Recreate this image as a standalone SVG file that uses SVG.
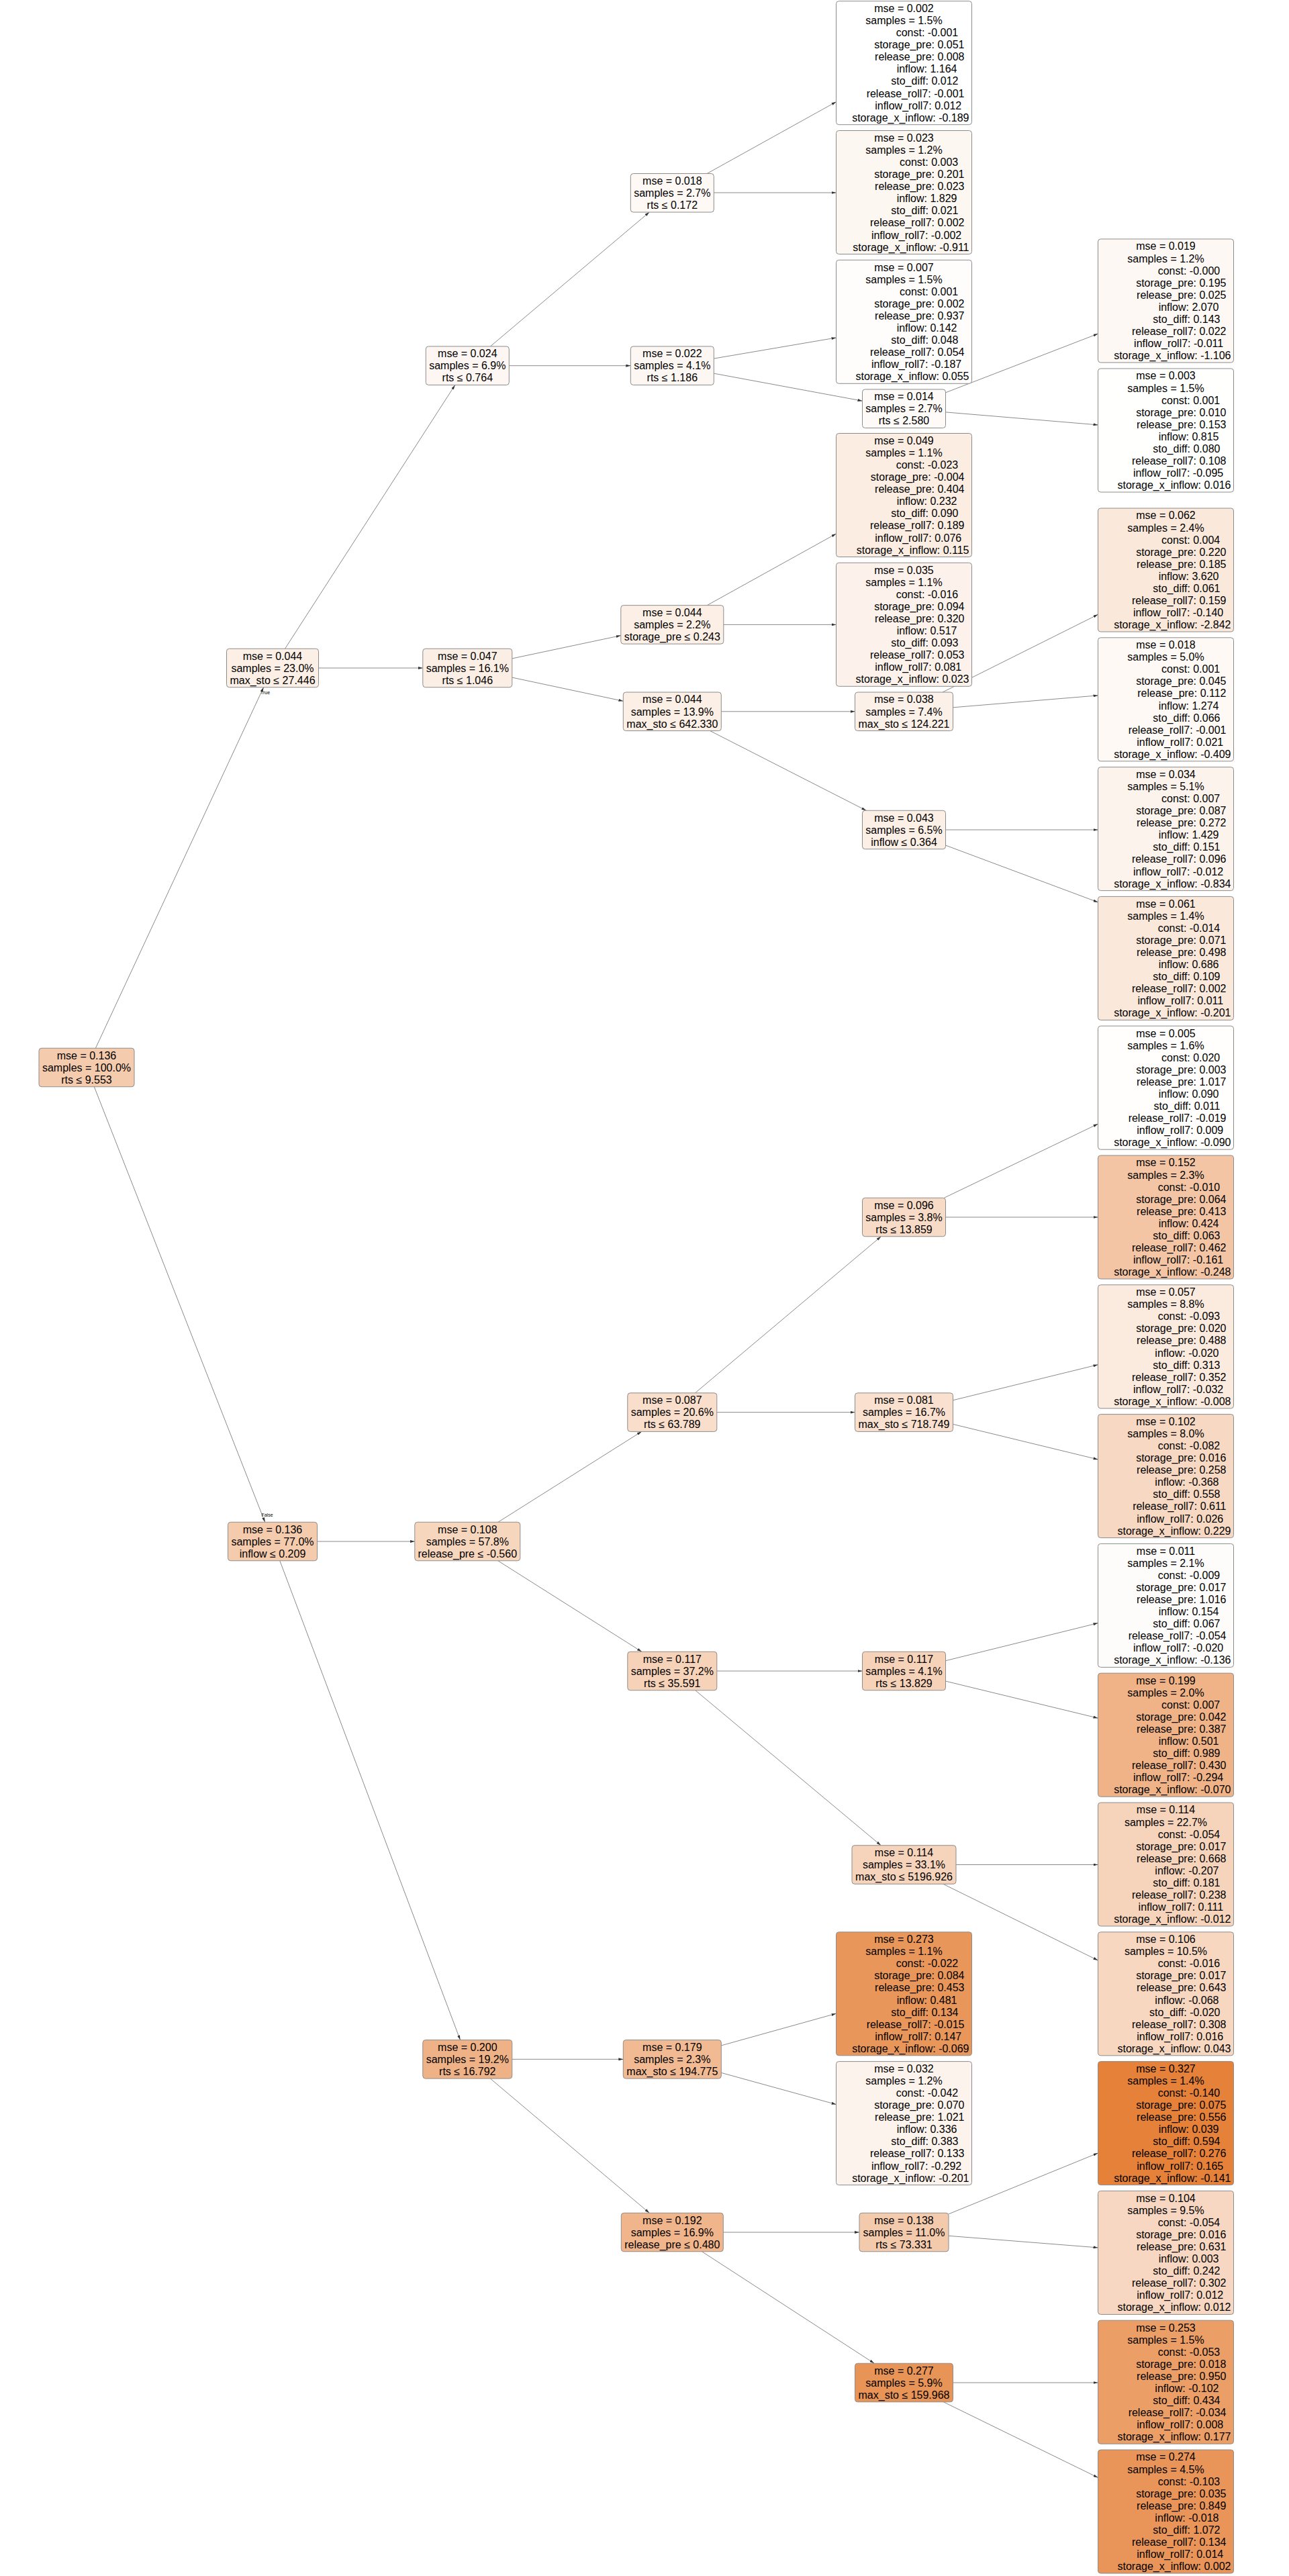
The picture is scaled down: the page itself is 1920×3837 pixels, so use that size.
<svg xmlns="http://www.w3.org/2000/svg" width="1920" height="3837" viewBox="0 0 1920 3837">
<style>
text{font-family:"Liberation Sans",Arial,sans-serif;font-size:16px;fill:#000}
.c{text-anchor:middle}
.r{text-anchor:end}
g rect{stroke:#8c8c8c;stroke-width:1}
#edges line{stroke:#8a8a8a;stroke-width:1;marker-end:url(#ah)}
.lbl{font-size:7px;text-anchor:middle}
</style>
<defs>
<marker id="ah" viewBox="0 0 7 4" refX="7" refY="2" markerWidth="7" markerHeight="4" markerUnits="userSpaceOnUse" orient="auto"><path d="M0,0L7,2L0,4z" fill="#333"/></marker>
</defs>
<rect x="0" y="0" width="1920" height="3837" style="fill:#fff;stroke:none"/>
<g id="edges">
<line x1="142.4" y1="1561.25" x2="392.6" y2="1023.75"/>
<line x1="140.3" y1="1618.75" x2="394.7" y2="2267.25"/>
<line x1="424.5" y1="966.25" x2="677.8" y2="573.45"/>
<line x1="474.5" y1="995" x2="629.8" y2="995"/>
<line x1="730.4" y1="515.95" x2="967.2" y2="316.05"/>
<line x1="758.3" y1="544.7" x2="939.3" y2="544.7"/>
<line x1="1053.1" y1="258.55" x2="1245.5" y2="151.7"/>
<line x1="1063.3" y1="287" x2="1245.5" y2="287"/>
<line x1="1063.3" y1="534.1" x2="1245.5" y2="503"/>
<line x1="1063.3" y1="556.2" x2="1284.5" y2="597.2"/>
<line x1="1408.5" y1="584.8" x2="1635.5" y2="497.1"/>
<line x1="1408.5" y1="613.9" x2="1635.5" y2="632.9"/>
<line x1="762.8" y1="980.9" x2="924.8" y2="946.6"/>
<line x1="762.8" y1="1009.1" x2="928.3" y2="1044.3"/>
<line x1="1053.2" y1="901.65" x2="1245.5" y2="795"/>
<line x1="1077.8" y1="930.4" x2="1245.5" y2="930.4"/>
<line x1="1074.3" y1="1059.8" x2="1273.5" y2="1059.8"/>
<line x1="1057.6" y1="1088.55" x2="1290.2" y2="1207.25"/>
<line x1="1404" y1="1031.05" x2="1635.5" y2="915.3"/>
<line x1="1419.5" y1="1053.8" x2="1635.5" y2="1035.9"/>
<line x1="1408.5" y1="1236" x2="1635.5" y2="1236"/>
<line x1="1408.5" y1="1259.1" x2="1635.5" y2="1343.9"/>
<line x1="472.5" y1="2296" x2="617.8" y2="2296"/>
<line x1="416.8" y1="2324.75" x2="685.5" y2="3038.55"/>
<line x1="741.9" y1="2267.25" x2="955.7" y2="2132.35"/>
<line x1="741.7" y1="2324.75" x2="955.9" y2="2460.25"/>
<line x1="1035.45" y1="2074.85" x2="1312.35" y2="1841.75"/>
<line x1="1067.8" y1="2103.6" x2="1273.5" y2="2103.6"/>
<line x1="1406.3" y1="1784.25" x2="1635.5" y2="1674.1"/>
<line x1="1408.5" y1="1813" x2="1635.5" y2="1813"/>
<line x1="1419.5" y1="2085.7" x2="1635.5" y2="2032.7"/>
<line x1="1419.5" y1="2121.4" x2="1635.5" y2="2173.9"/>
<line x1="1067.8" y1="2489" x2="1284.5" y2="2489"/>
<line x1="1035.7" y1="2517.75" x2="1312.1" y2="2748.75"/>
<line x1="1408.5" y1="2473.7" x2="1635.5" y2="2417.6"/>
<line x1="1408.5" y1="2504.1" x2="1635.5" y2="2559.2"/>
<line x1="1424" y1="2777.5" x2="1635.5" y2="2777.5"/>
<line x1="1404.8" y1="2806.25" x2="1635.5" y2="2920"/>
<line x1="762.8" y1="3067.3" x2="928.3" y2="3067.3"/>
<line x1="730.3" y1="3096.05" x2="967.3" y2="3296.25"/>
<line x1="1074.3" y1="3046.9" x2="1245.5" y2="2999.2"/>
<line x1="1074.3" y1="3087.4" x2="1245.5" y2="3134.6"/>
<line x1="1077.3" y1="3325" x2="1280" y2="3325"/>
<line x1="1045.6" y1="3353.75" x2="1302.2" y2="3520.25"/>
<line x1="1413" y1="3297.85" x2="1635.5" y2="3207"/>
<line x1="1413" y1="3330.3" x2="1635.5" y2="3347.9"/>
<line x1="1419.5" y1="3549" x2="1635.5" y2="3549"/>
<line x1="1405.3" y1="3577.75" x2="1635.5" y2="3690.4"/>
<text class="lbl" x="395" y="1034">True</text>
<text class="lbl" x="398" y="2259">False</text>
</g>

<g id="root" transform="translate(58,1561.25)"><rect width="142" height="57.5" rx="4" fill="#f4cbad"/><text class="c"><tspan x="71" y="16.4">mse = 0.136</tspan><tspan x="71" y="34.5">samples = 100.0%</tspan><tspan x="71" y="52.5">rts ≤ 9.553</tspan></text></g>
<g id="A" transform="translate(337.5,966.25)"><rect width="137" height="57.5" rx="4" fill="#fcefe5"/><text class="c"><tspan x="68.5" y="16.4">mse = 0.044</tspan><tspan x="68.5" y="34.5">samples = 23.0%</tspan><tspan x="68.5" y="52.5">max_sto ≤ 27.446</tspan></text></g>
<g id="B" transform="translate(339.5,2267.25)"><rect width="133" height="57.5" rx="4" fill="#f4cbad"/><text class="c"><tspan x="66.5" y="16.4">mse = 0.136</tspan><tspan x="66.5" y="34.5">samples = 77.0%</tspan><tspan x="66.5" y="52.5">inflow ≤ 0.209</tspan></text></g>
<g id="A1" transform="translate(634.3,515.95)"><rect width="124" height="57.5" rx="4" fill="#fdf6f2"/><text class="c"><tspan x="62" y="16.4">mse = 0.024</tspan><tspan x="62" y="34.5">samples = 6.9%</tspan><tspan x="62" y="52.5">rts ≤ 0.764</tspan></text></g>
<g id="A2" transform="translate(629.8,966.25)"><rect width="133" height="57.5" rx="4" fill="#fbeee4"/><text class="c"><tspan x="66.5" y="16.4">mse = 0.047</tspan><tspan x="66.5" y="34.5">samples = 16.1%</tspan><tspan x="66.5" y="52.5">rts ≤ 1.046</tspan></text></g>
<g id="A1a" transform="translate(939.3,258.55)"><rect width="124" height="57.5" rx="4" fill="#fef9f5"/><text class="c"><tspan x="62" y="16.4">mse = 0.018</tspan><tspan x="62" y="34.5">samples = 2.7%</tspan><tspan x="62" y="52.5">rts ≤ 0.172</tspan></text></g>
<g id="A1b" transform="translate(939.3,515.95)"><rect width="124" height="57.5" rx="4" fill="#fdf7f3"/><text class="c"><tspan x="62" y="16.4">mse = 0.022</tspan><tspan x="62" y="34.5">samples = 4.1%</tspan><tspan x="62" y="52.5">rts ≤ 1.186</tspan></text></g>
<g id="A2a" transform="translate(924.8,901.65)"><rect width="153" height="57.5" rx="4" fill="#fcefe5"/><text class="c"><tspan x="76.5" y="16.4">mse = 0.044</tspan><tspan x="76.5" y="34.5">samples = 2.2%</tspan><tspan x="76.5" y="52.5">storage_pre ≤ 0.243</tspan></text></g>
<g id="A2b" transform="translate(928.3,1031.05)"><rect width="146" height="57.5" rx="4" fill="#fcefe5"/><text class="c"><tspan x="73" y="16.4">mse = 0.044</tspan><tspan x="73" y="34.5">samples = 13.9%</tspan><tspan x="73" y="52.5">max_sto ≤ 642.330</tspan></text></g>
<g id="A1b2" transform="translate(1284.5,579.95)"><rect width="124" height="57.5" rx="4" fill="#fefaf8"/><text class="c"><tspan x="62" y="16.4">mse = 0.014</tspan><tspan x="62" y="34.5">samples = 2.7%</tspan><tspan x="62" y="52.5">rts ≤ 2.580</tspan></text></g>
<g id="A2b1" transform="translate(1273.5,1031.05)"><rect width="146" height="57.5" rx="4" fill="#fcf1e9"/><text class="c"><tspan x="73" y="16.4">mse = 0.038</tspan><tspan x="73" y="34.5">samples = 7.4%</tspan><tspan x="73" y="52.5">max_sto ≤ 124.221</tspan></text></g>
<g id="A2b2" transform="translate(1284.5,1207.25)"><rect width="124" height="57.5" rx="4" fill="#fcefe6"/><text class="c"><tspan x="62" y="16.4">mse = 0.043</tspan><tspan x="62" y="34.5">samples = 6.5%</tspan><tspan x="62" y="52.5">inflow ≤ 0.364</tspan></text></g>
<g id="B1" transform="translate(617.8,2267.25)"><rect width="157" height="57.5" rx="4" fill="#f7d6be"/><text class="c"><tspan x="78.5" y="16.4">mse = 0.108</tspan><tspan x="78.5" y="34.5">samples = 57.8%</tspan><tspan x="78.5" y="52.5">release_pre ≤ -0.560</tspan></text></g>
<g id="B1a" transform="translate(934.8,2074.85)"><rect width="133" height="57.5" rx="4" fill="#f8decb"/><text class="c"><tspan x="66.5" y="16.4">mse = 0.087</tspan><tspan x="66.5" y="34.5">samples = 20.6%</tspan><tspan x="66.5" y="52.5">rts ≤ 63.789</tspan></text></g>
<g id="B1b" transform="translate(934.8,2460.25)"><rect width="133" height="57.5" rx="4" fill="#f6d2b9"/><text class="c"><tspan x="66.5" y="16.4">mse = 0.117</tspan><tspan x="66.5" y="34.5">samples = 37.2%</tspan><tspan x="66.5" y="52.5">rts ≤ 35.591</tspan></text></g>
<g id="B1a1" transform="translate(1284.5,1784.25)"><rect width="124" height="57.5" rx="4" fill="#f7dbc6"/><text class="c"><tspan x="62" y="16.4">mse = 0.096</tspan><tspan x="62" y="34.5">samples = 3.8%</tspan><tspan x="62" y="52.5">rts ≤ 13.859</tspan></text></g>
<g id="B1a2" transform="translate(1273.5,2074.85)"><rect width="146" height="57.5" rx="4" fill="#f9e0cf"/><text class="c"><tspan x="73" y="16.4">mse = 0.081</tspan><tspan x="73" y="34.5">samples = 16.7%</tspan><tspan x="73" y="52.5">max_sto ≤ 718.749</tspan></text></g>
<g id="B1b1" transform="translate(1284.5,2460.25)"><rect width="124" height="57.5" rx="4" fill="#f6d2b9"/><text class="c"><tspan x="62" y="16.4">mse = 0.117</tspan><tspan x="62" y="34.5">samples = 4.1%</tspan><tspan x="62" y="52.5">rts ≤ 13.829</tspan></text></g>
<g id="B1b2" transform="translate(1269,2748.75)"><rect width="155" height="57.5" rx="4" fill="#f6d4bb"/><text class="c"><tspan x="77.5" y="16.4">mse = 0.114</tspan><tspan x="77.5" y="34.5">samples = 33.1%</tspan><tspan x="77.5" y="52.5">max_sto ≤ 5196.926</tspan></text></g>
<g id="B2" transform="translate(629.8,3038.55)"><rect width="133" height="57.5" rx="4" fill="#efb286"/><text class="c"><tspan x="66.5" y="16.4">mse = 0.200</tspan><tspan x="66.5" y="34.5">samples = 19.2%</tspan><tspan x="66.5" y="52.5">rts ≤ 16.792</tspan></text></g>
<g id="B2a" transform="translate(928.3,3038.55)"><rect width="146" height="57.5" rx="4" fill="#f1ba93"/><text class="c"><tspan x="73" y="16.4">mse = 0.179</tspan><tspan x="73" y="34.5">samples = 2.3%</tspan><tspan x="73" y="52.5">max_sto ≤ 194.775</tspan></text></g>
<g id="B2b" transform="translate(925.3,3296.25)"><rect width="152" height="57.5" rx="4" fill="#f0b58b"/><text class="c"><tspan x="76" y="16.4">mse = 0.192</tspan><tspan x="76" y="34.5">samples = 16.9%</tspan><tspan x="76" y="52.5">release_pre ≤ 0.480</tspan></text></g>
<g id="B2b1" transform="translate(1280,3296.25)"><rect width="133" height="57.5" rx="4" fill="#f4caac"/><text class="c"><tspan x="66.5" y="16.4">mse = 0.138</tspan><tspan x="66.5" y="34.5">samples = 11.0%</tspan><tspan x="66.5" y="52.5">rts ≤ 73.331</tspan></text></g>
<g id="B2b2" transform="translate(1273.5,3520.25)"><rect width="146" height="57.5" rx="4" fill="#e99457"/><text class="c"><tspan x="73" y="16.4">mse = 0.277</tspan><tspan x="73" y="34.5">samples = 5.9%</tspan><tspan x="73" y="52.5">max_sto ≤ 159.968</tspan></text></g>

<g id="M1" transform="translate(1245.5,1.7)"><rect width="202" height="184" rx="4" fill="#ffffff"/><text class="c"><tspan x="101" y="16.4">mse = 0.002</tspan><tspan x="101" y="34.5">samples = 1.5%</tspan></text><text class="r"><tspan x="181.7" y="52.5">const: -0.001</tspan><tspan x="191" y="70.6">storage_pre: 0.051</tspan><tspan x="191" y="88.7">release_pre: 0.008</tspan><tspan x="180" y="106.8">inflow: 1.164</tspan><tspan x="182" y="124.8">sto_diff: 0.012</tspan><tspan x="191" y="142.9">release_roll7: -0.001</tspan><tspan x="186.7" y="161">inflow_roll7: 0.012</tspan><tspan x="198" y="179">storage_x_inflow: -0.189</tspan></text></g>
<g id="M2" transform="translate(1245.5,194.5)"><rect width="202" height="184" rx="4" fill="#fdf7f2"/><text class="c"><tspan x="101" y="16.4">mse = 0.023</tspan><tspan x="101" y="34.5">samples = 1.2%</tspan></text><text class="r"><tspan x="181.7" y="52.5">const: 0.003</tspan><tspan x="191" y="70.6">storage_pre: 0.201</tspan><tspan x="191" y="88.7">release_pre: 0.023</tspan><tspan x="180" y="106.8">inflow: 1.829</tspan><tspan x="182" y="124.8">sto_diff: 0.021</tspan><tspan x="191" y="142.9">release_roll7: 0.002</tspan><tspan x="186.7" y="161">inflow_roll7: -0.002</tspan><tspan x="198" y="179">storage_x_inflow: -0.911</tspan></text></g>
<g id="M3" transform="translate(1245.5,387.3)"><rect width="202" height="184" rx="4" fill="#fffdfc"/><text class="c"><tspan x="101" y="16.4">mse = 0.007</tspan><tspan x="101" y="34.5">samples = 1.5%</tspan></text><text class="r"><tspan x="181.7" y="52.5">const: 0.001</tspan><tspan x="191" y="70.6">storage_pre: 0.002</tspan><tspan x="191" y="88.7">release_pre: 0.937</tspan><tspan x="180" y="106.8">inflow: 0.142</tspan><tspan x="182" y="124.8">sto_diff: 0.048</tspan><tspan x="191" y="142.9">release_roll7: 0.054</tspan><tspan x="186.7" y="161">inflow_roll7: -0.187</tspan><tspan x="198" y="179">storage_x_inflow: 0.055</tspan></text></g>
<g id="M4" transform="translate(1245.5,645.5)"><rect width="202" height="184" rx="4" fill="#fbede2"/><text class="c"><tspan x="101" y="16.4">mse = 0.049</tspan><tspan x="101" y="34.5">samples = 1.1%</tspan></text><text class="r"><tspan x="181.7" y="52.5">const: -0.023</tspan><tspan x="191" y="70.6">storage_pre: -0.004</tspan><tspan x="191" y="88.7">release_pre: 0.404</tspan><tspan x="180" y="106.8">inflow: 0.232</tspan><tspan x="182" y="124.8">sto_diff: 0.090</tspan><tspan x="191" y="142.9">release_roll7: 0.189</tspan><tspan x="186.7" y="161">inflow_roll7: 0.076</tspan><tspan x="198" y="179">storage_x_inflow: 0.115</tspan></text></g>
<g id="M5" transform="translate(1245.5,838.3)"><rect width="202" height="184" rx="4" fill="#fcf2eb"/><text class="c"><tspan x="101" y="16.4">mse = 0.035</tspan><tspan x="101" y="34.5">samples = 1.1%</tspan></text><text class="r"><tspan x="181.7" y="52.5">const: -0.016</tspan><tspan x="191" y="70.6">storage_pre: 0.094</tspan><tspan x="191" y="88.7">release_pre: 0.320</tspan><tspan x="180" y="106.8">inflow: 0.517</tspan><tspan x="182" y="124.8">sto_diff: 0.093</tspan><tspan x="191" y="142.9">release_roll7: 0.053</tspan><tspan x="186.7" y="161">inflow_roll7: 0.081</tspan><tspan x="198" y="179">storage_x_inflow: 0.023</tspan></text></g>
<g id="M6" transform="translate(1245.5,2877.8)"><rect width="202" height="184" rx="4" fill="#e9965a"/><text class="c"><tspan x="101" y="16.4">mse = 0.273</tspan><tspan x="101" y="34.5">samples = 1.1%</tspan></text><text class="r"><tspan x="181.7" y="52.5">const: -0.022</tspan><tspan x="191" y="70.6">storage_pre: 0.084</tspan><tspan x="191" y="88.7">release_pre: 0.453</tspan><tspan x="180" y="106.8">inflow: 0.481</tspan><tspan x="182" y="124.8">sto_diff: 0.134</tspan><tspan x="191" y="142.9">release_roll7: -0.015</tspan><tspan x="186.7" y="161">inflow_roll7: 0.147</tspan><tspan x="198" y="179">storage_x_inflow: -0.069</tspan></text></g>
<g id="M7" transform="translate(1245.5,3070.6)"><rect width="202" height="184" rx="4" fill="#fdf3ed"/><text class="c"><tspan x="101" y="16.4">mse = 0.032</tspan><tspan x="101" y="34.5">samples = 1.2%</tspan></text><text class="r"><tspan x="181.7" y="52.5">const: -0.042</tspan><tspan x="191" y="70.6">storage_pre: 0.070</tspan><tspan x="191" y="88.7">release_pre: 1.021</tspan><tspan x="180" y="106.8">inflow: 0.336</tspan><tspan x="182" y="124.8">sto_diff: 0.383</tspan><tspan x="191" y="142.9">release_roll7: 0.133</tspan><tspan x="186.7" y="161">inflow_roll7: -0.292</tspan><tspan x="198" y="179">storage_x_inflow: -0.201</tspan></text></g>

<g id="R1" transform="translate(1635.5,356)"><rect width="202" height="184" rx="4" fill="#fef8f5"/><text class="c"><tspan x="101" y="16.4">mse = 0.019</tspan><tspan x="101" y="34.5">samples = 1.2%</tspan></text><text class="r"><tspan x="181.7" y="52.5">const: -0.000</tspan><tspan x="191" y="70.6">storage_pre: 0.195</tspan><tspan x="191" y="88.7">release_pre: 0.025</tspan><tspan x="180" y="106.8">inflow: 2.070</tspan><tspan x="182" y="124.8">sto_diff: 0.143</tspan><tspan x="191" y="142.9">release_roll7: 0.022</tspan><tspan x="186.7" y="161">inflow_roll7: -0.011</tspan><tspan x="198" y="179">storage_x_inflow: -1.106</tspan></text></g>
<g id="R2" transform="translate(1635.5,549)"><rect width="202" height="184" rx="4" fill="#fffffe"/><text class="c"><tspan x="101" y="16.4">mse = 0.003</tspan><tspan x="101" y="34.5">samples = 1.5%</tspan></text><text class="r"><tspan x="181.7" y="52.5">const: 0.001</tspan><tspan x="191" y="70.6">storage_pre: 0.010</tspan><tspan x="191" y="88.7">release_pre: 0.153</tspan><tspan x="180" y="106.8">inflow: 0.815</tspan><tspan x="182" y="124.8">sto_diff: 0.080</tspan><tspan x="191" y="142.9">release_roll7: 0.108</tspan><tspan x="186.7" y="161">inflow_roll7: -0.095</tspan><tspan x="198" y="179">storage_x_inflow: 0.016</tspan></text></g>
<g id="R3" transform="translate(1635.5,757)"><rect width="202" height="184" rx="4" fill="#fae8da"/><text class="c"><tspan x="101" y="16.4">mse = 0.062</tspan><tspan x="101" y="34.5">samples = 2.4%</tspan></text><text class="r"><tspan x="181.7" y="52.5">const: 0.004</tspan><tspan x="191" y="70.6">storage_pre: 0.220</tspan><tspan x="191" y="88.7">release_pre: 0.185</tspan><tspan x="180" y="106.8">inflow: 3.620</tspan><tspan x="182" y="124.8">sto_diff: 0.061</tspan><tspan x="191" y="142.9">release_roll7: 0.159</tspan><tspan x="186.7" y="161">inflow_roll7: -0.140</tspan><tspan x="198" y="179">storage_x_inflow: -2.842</tspan></text></g>
<g id="R4" transform="translate(1635.5,949.8)"><rect width="202" height="184" rx="4" fill="#fef9f5"/><text class="c"><tspan x="101" y="16.4">mse = 0.018</tspan><tspan x="101" y="34.5">samples = 5.0%</tspan></text><text class="r"><tspan x="181.7" y="52.5">const: 0.001</tspan><tspan x="191" y="70.6">storage_pre: 0.045</tspan><tspan x="191" y="88.7">release_pre: 0.112</tspan><tspan x="180" y="106.8">inflow: 1.274</tspan><tspan x="182" y="124.8">sto_diff: 0.066</tspan><tspan x="191" y="142.9">release_roll7: -0.001</tspan><tspan x="186.7" y="161">inflow_roll7: 0.021</tspan><tspan x="198" y="179">storage_x_inflow: -0.409</tspan></text></g>
<g id="R5" transform="translate(1635.5,1142.6)"><rect width="202" height="184" rx="4" fill="#fcf3ec"/><text class="c"><tspan x="101" y="16.4">mse = 0.034</tspan><tspan x="101" y="34.5">samples = 5.1%</tspan></text><text class="r"><tspan x="181.7" y="52.5">const: 0.007</tspan><tspan x="191" y="70.6">storage_pre: 0.087</tspan><tspan x="191" y="88.7">release_pre: 0.272</tspan><tspan x="180" y="106.8">inflow: 1.429</tspan><tspan x="182" y="124.8">sto_diff: 0.151</tspan><tspan x="191" y="142.9">release_roll7: 0.096</tspan><tspan x="186.7" y="161">inflow_roll7: -0.012</tspan><tspan x="198" y="179">storage_x_inflow: -0.834</tspan></text></g>
<g id="R6" transform="translate(1635.5,1335.4)"><rect width="202" height="184" rx="4" fill="#fae8db"/><text class="c"><tspan x="101" y="16.4">mse = 0.061</tspan><tspan x="101" y="34.5">samples = 1.4%</tspan></text><text class="r"><tspan x="181.7" y="52.5">const: -0.014</tspan><tspan x="191" y="70.6">storage_pre: 0.071</tspan><tspan x="191" y="88.7">release_pre: 0.498</tspan><tspan x="180" y="106.8">inflow: 0.686</tspan><tspan x="182" y="124.8">sto_diff: 0.109</tspan><tspan x="191" y="142.9">release_roll7: 0.002</tspan><tspan x="186.7" y="161">inflow_roll7: 0.011</tspan><tspan x="198" y="179">storage_x_inflow: -0.201</tspan></text></g>
<g id="R7" transform="translate(1635.5,1528.2)"><rect width="202" height="184" rx="4" fill="#fffefd"/><text class="c"><tspan x="101" y="16.4">mse = 0.005</tspan><tspan x="101" y="34.5">samples = 1.6%</tspan></text><text class="r"><tspan x="181.7" y="52.5">const: 0.020</tspan><tspan x="191" y="70.6">storage_pre: 0.003</tspan><tspan x="191" y="88.7">release_pre: 1.017</tspan><tspan x="180" y="106.8">inflow: 0.090</tspan><tspan x="182" y="124.8">sto_diff: 0.011</tspan><tspan x="191" y="142.9">release_roll7: -0.019</tspan><tspan x="186.7" y="161">inflow_roll7: 0.009</tspan><tspan x="198" y="179">storage_x_inflow: -0.090</tspan></text></g>
<g id="R8" transform="translate(1635.5,1721)"><rect width="202" height="184" rx="4" fill="#f3c5a4"/><text class="c"><tspan x="101" y="16.4">mse = 0.152</tspan><tspan x="101" y="34.5">samples = 2.3%</tspan></text><text class="r"><tspan x="181.7" y="52.5">const: -0.010</tspan><tspan x="191" y="70.6">storage_pre: 0.064</tspan><tspan x="191" y="88.7">release_pre: 0.413</tspan><tspan x="180" y="106.8">inflow: 0.424</tspan><tspan x="182" y="124.8">sto_diff: 0.063</tspan><tspan x="191" y="142.9">release_roll7: 0.462</tspan><tspan x="186.7" y="161">inflow_roll7: -0.161</tspan><tspan x="198" y="179">storage_x_inflow: -0.248</tspan></text></g>
<g id="R9" transform="translate(1635.5,1913.8)"><rect width="202" height="184" rx="4" fill="#fbeade"/><text class="c"><tspan x="101" y="16.4">mse = 0.057</tspan><tspan x="101" y="34.5">samples = 8.8%</tspan></text><text class="r"><tspan x="181.7" y="52.5">const: -0.093</tspan><tspan x="191" y="70.6">storage_pre: 0.020</tspan><tspan x="191" y="88.7">release_pre: 0.488</tspan><tspan x="180" y="106.8">inflow: -0.020</tspan><tspan x="182" y="124.8">sto_diff: 0.313</tspan><tspan x="191" y="142.9">release_roll7: 0.352</tspan><tspan x="186.7" y="161">inflow_roll7: -0.032</tspan><tspan x="198" y="179">storage_x_inflow: -0.008</tspan></text></g>
<g id="R10" transform="translate(1635.5,2106.6)"><rect width="202" height="184" rx="4" fill="#f7d8c2"/><text class="c"><tspan x="101" y="16.4">mse = 0.102</tspan><tspan x="101" y="34.5">samples = 8.0%</tspan></text><text class="r"><tspan x="181.7" y="52.5">const: -0.082</tspan><tspan x="191" y="70.6">storage_pre: 0.016</tspan><tspan x="191" y="88.7">release_pre: 0.258</tspan><tspan x="180" y="106.8">inflow: -0.368</tspan><tspan x="182" y="124.8">sto_diff: 0.558</tspan><tspan x="191" y="142.9">release_roll7: 0.611</tspan><tspan x="186.7" y="161">inflow_roll7: 0.026</tspan><tspan x="198" y="179">storage_x_inflow: 0.229</tspan></text></g>
<g id="R11" transform="translate(1635.5,2299.4)"><rect width="202" height="184" rx="4" fill="#fefcfa"/><text class="c"><tspan x="101" y="16.4">mse = 0.011</tspan><tspan x="101" y="34.5">samples = 2.1%</tspan></text><text class="r"><tspan x="181.7" y="52.5">const: -0.009</tspan><tspan x="191" y="70.6">storage_pre: 0.017</tspan><tspan x="191" y="88.7">release_pre: 1.016</tspan><tspan x="180" y="106.8">inflow: 0.154</tspan><tspan x="182" y="124.8">sto_diff: 0.067</tspan><tspan x="191" y="142.9">release_roll7: -0.054</tspan><tspan x="186.7" y="161">inflow_roll7: -0.020</tspan><tspan x="198" y="179">storage_x_inflow: -0.136</tspan></text></g>
<g id="R12" transform="translate(1635.5,2492.2)"><rect width="202" height="184" rx="4" fill="#efb387"/><text class="c"><tspan x="101" y="16.4">mse = 0.199</tspan><tspan x="101" y="34.5">samples = 2.0%</tspan></text><text class="r"><tspan x="181.7" y="52.5">const: 0.007</tspan><tspan x="191" y="70.6">storage_pre: 0.042</tspan><tspan x="191" y="88.7">release_pre: 0.387</tspan><tspan x="180" y="106.8">inflow: 0.501</tspan><tspan x="182" y="124.8">sto_diff: 0.989</tspan><tspan x="191" y="142.9">release_roll7: 0.430</tspan><tspan x="186.7" y="161">inflow_roll7: -0.294</tspan><tspan x="198" y="179">storage_x_inflow: -0.070</tspan></text></g>
<g id="R13" transform="translate(1635.5,2685)"><rect width="202" height="184" rx="4" fill="#f6d4bb"/><text class="c"><tspan x="101" y="16.4">mse = 0.114</tspan><tspan x="101" y="34.5">samples = 22.7%</tspan></text><text class="r"><tspan x="181.7" y="52.5">const: -0.054</tspan><tspan x="191" y="70.6">storage_pre: 0.017</tspan><tspan x="191" y="88.7">release_pre: 0.668</tspan><tspan x="180" y="106.8">inflow: -0.207</tspan><tspan x="182" y="124.8">sto_diff: 0.181</tspan><tspan x="191" y="142.9">release_roll7: 0.238</tspan><tspan x="186.7" y="161">inflow_roll7: 0.111</tspan><tspan x="198" y="179">storage_x_inflow: -0.012</tspan></text></g>
<g id="R14" transform="translate(1635.5,2877.8)"><rect width="202" height="184" rx="4" fill="#f7d7c0"/><text class="c"><tspan x="101" y="16.4">mse = 0.106</tspan><tspan x="101" y="34.5">samples = 10.5%</tspan></text><text class="r"><tspan x="181.7" y="52.5">const: -0.016</tspan><tspan x="191" y="70.6">storage_pre: 0.017</tspan><tspan x="191" y="88.7">release_pre: 0.643</tspan><tspan x="180" y="106.8">inflow: -0.068</tspan><tspan x="182" y="124.8">sto_diff: -0.020</tspan><tspan x="191" y="142.9">release_roll7: 0.308</tspan><tspan x="186.7" y="161">inflow_roll7: 0.016</tspan><tspan x="198" y="179">storage_x_inflow: 0.043</tspan></text></g>
<g id="R15" transform="translate(1635.5,3070.6)"><rect width="202" height="184" rx="4" fill="#e58139"/><text class="c"><tspan x="101" y="16.4">mse = 0.327</tspan><tspan x="101" y="34.5">samples = 1.4%</tspan></text><text class="r"><tspan x="181.7" y="52.5">const: -0.140</tspan><tspan x="191" y="70.6">storage_pre: 0.075</tspan><tspan x="191" y="88.7">release_pre: 0.556</tspan><tspan x="180" y="106.8">inflow: 0.039</tspan><tspan x="182" y="124.8">sto_diff: 0.594</tspan><tspan x="191" y="142.9">release_roll7: 0.276</tspan><tspan x="186.7" y="161">inflow_roll7: 0.165</tspan><tspan x="198" y="179">storage_x_inflow: -0.141</tspan></text></g>
<g id="R16" transform="translate(1635.5,3263.4)"><rect width="202" height="184" rx="4" fill="#f7d7c1"/><text class="c"><tspan x="101" y="16.4">mse = 0.104</tspan><tspan x="101" y="34.5">samples = 9.5%</tspan></text><text class="r"><tspan x="181.7" y="52.5">const: -0.054</tspan><tspan x="191" y="70.6">storage_pre: 0.016</tspan><tspan x="191" y="88.7">release_pre: 0.631</tspan><tspan x="180" y="106.8">inflow: 0.003</tspan><tspan x="182" y="124.8">sto_diff: 0.242</tspan><tspan x="191" y="142.9">release_roll7: 0.302</tspan><tspan x="186.7" y="161">inflow_roll7: 0.012</tspan><tspan x="198" y="179">storage_x_inflow: 0.012</tspan></text></g>
<g id="R17" transform="translate(1635.5,3456.2)"><rect width="202" height="184" rx="4" fill="#eb9e66"/><text class="c"><tspan x="101" y="16.4">mse = 0.253</tspan><tspan x="101" y="34.5">samples = 1.5%</tspan></text><text class="r"><tspan x="181.7" y="52.5">const: -0.053</tspan><tspan x="191" y="70.6">storage_pre: 0.018</tspan><tspan x="191" y="88.7">release_pre: 0.950</tspan><tspan x="180" y="106.8">inflow: -0.102</tspan><tspan x="182" y="124.8">sto_diff: 0.434</tspan><tspan x="191" y="142.9">release_roll7: -0.034</tspan><tspan x="186.7" y="161">inflow_roll7: 0.008</tspan><tspan x="198" y="179">storage_x_inflow: 0.177</tspan></text></g>
<g id="R18" transform="translate(1635.5,3649)"><rect width="202" height="184" rx="4" fill="#e99559"/><text class="c"><tspan x="101" y="16.4">mse = 0.274</tspan><tspan x="101" y="34.5">samples = 4.5%</tspan></text><text class="r"><tspan x="181.7" y="52.5">const: -0.103</tspan><tspan x="191" y="70.6">storage_pre: 0.035</tspan><tspan x="191" y="88.7">release_pre: 0.849</tspan><tspan x="180" y="106.8">inflow: -0.018</tspan><tspan x="182" y="124.8">sto_diff: 1.072</tspan><tspan x="191" y="142.9">release_roll7: 0.134</tspan><tspan x="186.7" y="161">inflow_roll7: 0.014</tspan><tspan x="198" y="179">storage_x_inflow: 0.002</tspan></text></g>
</svg>
